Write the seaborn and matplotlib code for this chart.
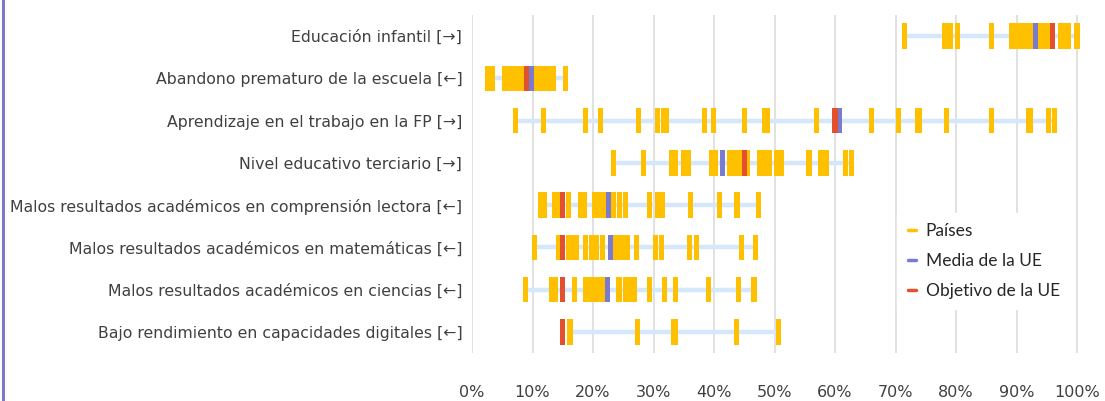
import numpy as np
import pandas as pd
import matplotlib
matplotlib.use('Agg')
import matplotlib.pyplot as plt
from matplotlib.path import Path
from matplotlib.lines import Line2D
import seaborn as sns

categorias = [
    'Educación infantil [→]',
    'Abandono prematuro de la escuela [←]',
    'Aprendizaje en el trabajo en la FP [→]',
    'Nivel educativo terciario [→]',
    'Malos resultados académicos en comprensión lectora [←]',
    'Malos resultados académicos en matemáticas [←]',
    'Malos resultados académicos en ciencias [←]',
    'Bajo rendimiento en capacidades digitales [←]',
]

# valores por país (%)
paises_infantil = [71.5, 78.1, 79.0, 80.2, 85.9, 89.2, 90.0, 90.9, 91.6, 92.4, 94.0,
                   94.8, 95.6, 97.3, 98.0, 98.6, 100.0]
paises_abandono = [2.5, 3.4, 5.3, 6.1, 6.9, 7.6, 8.3, 10.6, 11.3, 12.2, 13.0, 13.4, 15.4]
paises_fp = [7.2, 11.8, 18.7, 21.3, 27.5, 30.7, 31.7, 32.2, 38.4, 39.9, 45.1, 48.4,
             48.8, 57.0, 66.0, 70.5, 73.6, 74.0, 78.4, 85.8, 92.0, 92.3, 95.3, 96.3]
paises_terciario = [23.4, 28.4, 33.0, 33.6, 35.0, 35.8, 39.6, 40.2, 42.5, 43.3, 44.3,
                    45.6, 47.6, 48.4, 49.1, 50.4, 51.1, 55.7, 57.6, 58.5, 61.8, 62.7]
paises_lectora = [11.3, 11.9, 13.6, 14.3, 16.0, 18.0, 18.5, 20.3, 21.1, 21.8, 23.4,
                  24.4, 25.4, 29.4, 30.7, 31.5, 36.1, 40.9, 43.8, 47.3]
paises_mate = [10.3, 14.3, 15.9, 16.5, 17.3, 18.8, 19.8, 20.6, 21.5, 23.8, 24.6,
               25.4, 25.7, 27.2, 30.3, 31.3, 35.9, 37.1, 44.5, 46.8]
paises_ciencias = [8.8, 13.1, 13.8, 17.0, 18.7, 19.4, 20.2, 21.1, 21.6, 24.3, 25.4,
                   26.0, 26.9, 29.4, 31.8, 33.6, 39.1, 44.0, 46.6]
paises_digital = [16.2, 27.4, 33.3, 33.6, 43.7, 50.7]

media_ue = [93.1, 9.8, 60.8, 41.4, 22.6, 22.9, 22.4, np.nan]
objetivo_ue = [96.0, 9.0, 60.0, 45.0, 15.0, 15.0, 15.0, 15.0]

paises = [paises_infantil, paises_abandono, paises_fp, paises_terciario,
          paises_lectora, paises_mate, paises_ciencias, paises_digital]

filas = []
for cat, vals in zip(categorias, paises):
    for v in vals:
        filas.append({'categoria': cat, 'valor': v, 'tipo': 'Países'})
for cat, v in zip(categorias, media_ue):
    if not np.isnan(v):
        filas.append({'categoria': cat, 'valor': v, 'tipo': 'Media de la UE'})
for cat, v in zip(categorias, objetivo_ue):
    filas.append({'categoria': cat, 'valor': v, 'tipo': 'Objetivo de la UE'})
df = pd.DataFrame(filas)

colores = {'Países': '#FFC000', 'Media de la UE': '#7B7BCE', 'Objetivo de la UE': '#E2502D'}

sns.set_style('white')
plt.rcParams['font.family'] = ['DejaVu Sans']

fig = plt.figure(figsize=(11.05, 4.01), dpi=100)
ax = fig.add_axes([0.4272, 0.1197, 0.5502, 0.8429])

# líneas de rango (mínimo a máximo de los países)
for i, vals in enumerate(paises):
    ax.hlines(i, min(vals), max(vals), color='#D5E7FA', lw=3.2, zorder=1)

rect = Path([(-0.1, -0.5), (0.1, -0.5), (0.1, 0.5), (-0.1, 0.5), (-0.1, -0.5)],
            [Path.MOVETO, Path.LINETO, Path.LINETO, Path.LINETO, Path.CLOSEPOLY])
sns.scatterplot(data=df, x='valor', y='categoria', hue='tipo', palette=colores,
                marker=rect, s=18.5 ** 2, linewidth=0, ax=ax, legend=False, zorder=3)

ax.set_xlim(0, 100.5)
ax.set_ylim(len(categorias) - 0.5, -0.5)
ax.set_xticks(range(0, 101, 10))
ax.set_xticklabels([f'{t}%' for t in range(0, 101, 10)])
ax.set_xlabel('')
ax.set_ylabel('')
ax.grid(axis='x', color='#D9D9D9', lw=1.1)
ax.grid(axis='y', visible=False)
ax.set_axisbelow(True)
sns.despine(ax=ax, left=True, bottom=True)
ax.tick_params(axis='x', length=0, pad=23, labelsize=11.5, labelcolor='#404040')
ax.tick_params(axis='y', length=0, pad=7, labelsize=11.3, labelcolor='#404040')

handles = [Line2D([], [], color=colores[k], lw=2.5) for k in colores]
leg = fig.legend(handles, list(colores.keys()), loc='upper left',
                 bbox_to_anchor=(0.804, 0.491), frameon=True, framealpha=1,
                 edgecolor='white', facecolor='white', fancybox=False,
                 handlelength=0.5, handletextpad=0.55, labelspacing=0.8,
                 borderpad=0.6, prop={'family': 'Lato', 'size': 12.5})

fig.add_artist(Line2D([0.0025, 0.0025], [0, 1], transform=fig.transFigure,
                      color='#7B7BC8', lw=2.2))

plt.savefig('out.png', dpi=100)
